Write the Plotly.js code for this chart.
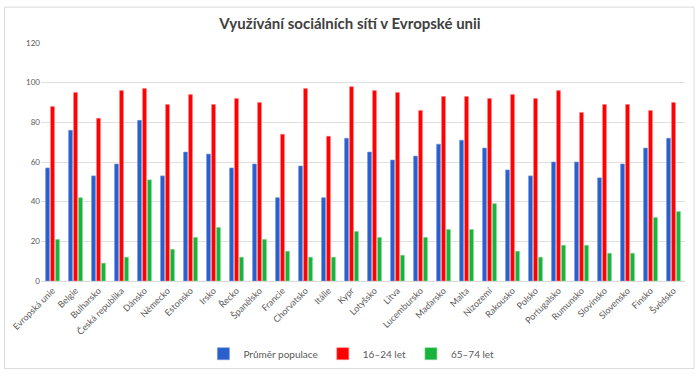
<!DOCTYPE html>
<html>
<head>
<meta charset="utf-8">
<script src="https://cdn.plot.ly/plotly-3.0.1.min.js"></script>
<style>
html,body{margin:0;padding:0;background:#fff;}
#chart{width:700px;height:379px;}
</style>
</head>
<body>
<div id="chart"></div>
<script>
var categories = ["Evropská unie","Belgie","Bulharsko","Česká republika","Dánsko","Německo","Estonsko","Irsko","Řecko","Španělsko","Francie","Chorvatsko","Itálie","Kypr","Lotyšsko","Litva","Lucembursko","Maďarsko","Malta","Nizozemí","Rakousko","Polsko","Portugalsko","Rumunsko","Slovinsko","Slovensko","Finsko","Švédsko"];
var prumerPopulace = [57,76,53,59,81,53,65,64,57,59,42,58,42,72,65,61,63,69,71,67,56,53,60,60,52,59,67,72];
var vek16_24 = [88,95,82,96,97,89,94,89,92,90,74,97,73,98,96,95,86,93,93,92,94,92,96,85,89,89,86,90];
var vek65_74 = [21,42,9,12,51,16,22,27,12,21,15,12,12,25,22,13,22,26,26,39,15,12,18,18,14,14,32,35];
var seriesNames = ["Průměr populace","16–24 let","65–74 let"];
var yTicks = [0,20,40,60,80,100,120];

var FONT = "Lato, 'Open Sans', sans-serif";
var colors = ["#2a5fcc","#ff0000","#17b33b"];
var edges = ["#6f96e0","#ff8080","#7fd894"];
var vals = [prumerPopulace, vek16_24, vek65_74];

var data = vals.map(function(v,i){
  return {
    type:"bar", x:categories, y:v, name:seriesNames[i],
    marker:{color:colors[i], line:{color:edges[i], width:0.6}},
    hoverinfo:"x+y+name"
  };
});

var layout = {
  width:700, height:379,
  margin:{l:40.5, r:15, t:43, b:97, pad:0},
  paper_bgcolor:"#fff", plot_bgcolor:"#fff",
  barmode:"group", bargap:0.35, bargroupgap:0.22,
  title:{text:"<b>Využívání sociálních sítí v Evropské unii</b>", x:0.5, xanchor:"center", y:0.938, yanchor:"middle",
         font:{family:FONT, size:15, color:"#404040"}},
  xaxis:{tickangle:-45, tickfont:{family:FONT, size:9, color:"#595959"},
         showline:true, linecolor:"#d9d9d9", linewidth:1, ticks:"", showgrid:false, automargin:false},
  yaxis:{range:[0,120], tickvals:yTicks, ticktext:yTicks.map(String),
         tickfont:{family:FONT, size:8, color:"#595959"}, gridcolor:"#e0e0e0", gridwidth:1,
         zeroline:false, showline:false, ticks:"", ticklen:0, automargin:false},
  legend:{orientation:"h", x:0.482, xanchor:"center", y:-0.3, yanchor:"middle",
          font:{family:FONT, size:10, color:"#595959"}, itemwidth:30, tracegroupgap:0},
  shapes:[{type:"rect", xref:"paper", yref:"paper", x0:-0.0566, x1:1.014, y0:-0.368, y1:1.1506,
           line:{color:"#d9d9d9", width:1}, fillcolor:"rgba(0,0,0,0)", layer:"below"}],
  showlegend:true
};

Plotly.newPlot("chart", data, layout, {displayModeBar:false, staticPlot:false});
</script>
</body>
</html>
